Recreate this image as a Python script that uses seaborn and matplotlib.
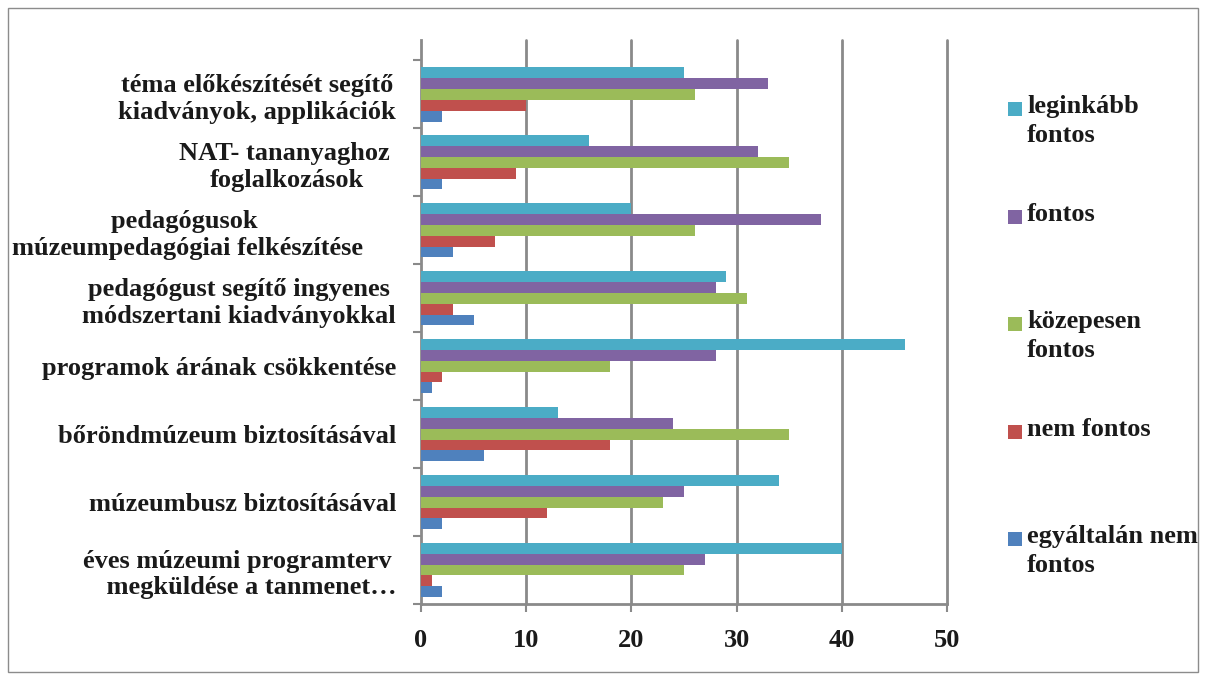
import numpy as np
import pandas as pd
import matplotlib
matplotlib.use("Agg")
import matplotlib.pyplot as plt
from matplotlib.patches import Rectangle
import seaborn as sns

# ---------------- data ----------------
categories = [
    "téma előkészítését segítő\nkiadványok, applikációk",
    "NAT- tananyaghoz \nfoglalkozások",
    "pedagógusok      \nmúzeumpedagógiai felkészítése     ",
    "pedagógust segítő ingyenes\nmódszertani kiadványokkal",
    "programok árának csökkentése",
    "bőröndmúzeum biztosításával",
    "múzeumbusz biztosításával",
    "éves múzeumi programterv\n    megküldése a tanmenet…",
]
series = ["leginkább fontos", "fontos", "közepesen fontos", "nem fontos", "egyáltalán nem fontos"]
legend_labels = ["leginkább\nfontos", "fontos", "közepesen\nfontos", "nem fontos", "egyáltalán nem\nfontos"]
leginkabb_fontos = [25, 16, 20, 29, 46, 13, 34, 40]
fontos = [33, 32, 38, 28, 28, 24, 25, 27]
kozepesen_fontos = [26, 35, 26, 31, 18, 35, 23, 25]
nem_fontos = [10, 9, 7, 3, 2, 18, 12, 1]
egyaltalan_nem_fontos = [2, 2, 3, 5, 1, 6, 2, 2]
x_ticks = [0, 10, 20, 30, 40, 50]

colors = ["#4BACC6", "#8064A2", "#9BBB59", "#C0504D", "#4F81BD"]

values = [leginkabb_fontos, fontos, kozepesen_fontos, nem_fontos, egyaltalan_nem_fontos]
rows = []
for s, vals in zip(series, values):
    for c, v in zip(categories, vals):
        rows.append({"category": c, "series": s, "value": v})
df = pd.DataFrame(rows)

# ---------------- figure ----------------
sns.set_theme(style="white")
plt.rcParams["font.family"] = ["Liberation Serif", "DejaVu Serif"]
plt.rcParams["font.weight"] = "bold"

fig = plt.figure(figsize=(12.06, 6.79), dpi=100)
ax = fig.add_axes([421 / 1206, (679 - 604) / 679, (947 - 421) / 1206, (604 - 40) / 679])

sns.barplot(
    data=df, x="value", y="category", hue="series",
    order=categories, hue_order=series, palette=colors,
    orient="h", width=0.8, saturation=1, legend=False, ax=ax,
    edgecolor="none", zorder=3,
)

ax.set_xlim(0, 50)
ax.set_ylim(7.5, -0.8)
ax.set_xlabel("")
ax.set_ylabel("")

gray = "#8a8a8a"
for xv in x_ticks[1:]:
    ax.axvline(xv, color=gray, lw=2, zorder=1, clip_on=False)

for side in ["top", "right"]:
    ax.spines[side].set_visible(False)
for side in ["left", "bottom"]:
    ax.spines[side].set_color(gray)
    ax.spines[side].set_linewidth(2)

txt_color = "#1a1a1a"
ax.set_xticks(x_ticks)
ax.set_xticklabels([str(t) for t in x_ticks])
ax.tick_params(axis="x", which="major", bottom=True, direction="out", length=6, width=1.5,
               color=gray, pad=12, labelsize=19, labelcolor=txt_color)
ax.set_yticks(np.arange(len(categories)))
ax.set_yticklabels(categories, multialignment="center")
ax.tick_params(axis="y", which="major", left=False, length=0, pad=18, labelsize=19,
               labelcolor=txt_color)
ax.set_yticks(np.arange(-0.5, len(categories), 1), minor=True)
ax.tick_params(axis="y", which="minor", left=True, direction="out", length=6, width=1.5,
               color=gray)
for lab in ax.get_xticklabels() + ax.get_yticklabels():
    lab.set_fontweight("bold")
for lab in ax.get_yticklabels():
    lab.set_linespacing(1.22)

# ---------------- legend ----------------
leg_y = [109, 216.5, 324, 431.5, 539]
for lab, col, yp in zip(legend_labels, colors, leg_y):
    fig.patches.append(Rectangle((1008 / 1206, (679 - yp - 7) / 679), 14 / 1206, 14 / 679,
                                 transform=fig.transFigure, facecolor=col, edgecolor="none"))
    fig.text(1027 / 1206, (679 - yp + 14) / 679, lab, ha="left", va="top", fontsize=19,
             fontweight="bold", color=txt_color, linespacing=1.33)

# outer frame
fig.patches.append(Rectangle((8 / 1206, 7 / 679), 1190 / 1206, 664 / 679, transform=fig.transFigure,
                             fill=False, edgecolor="#8c8c8c", lw=1))

fig.savefig("out.png", dpi=100)
